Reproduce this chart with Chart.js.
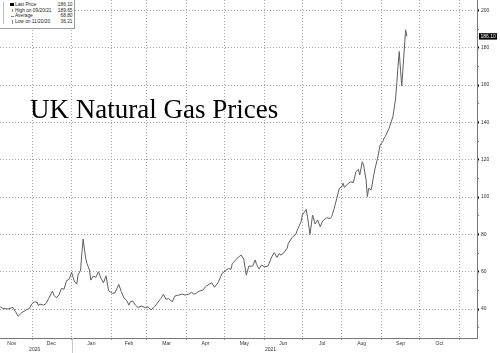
<!DOCTYPE html>
<html><head><meta charset="utf-8">
<script src="https://cdn.jsdelivr.net/npm/chart.js@4.4.0/dist/chart.umd.min.js"></script>
<style>
html,body{margin:0;padding:0;background:#fff;}
#wrap{position:relative;width:500px;height:353px;overflow:hidden;background:#fff;}
#c{position:absolute;left:0;top:0;}
#title{position:absolute;left:30px;top:96px;font-family:"Liberation Serif","Times New Roman",serif;font-size:27px;line-height:27px;color:#000;white-space:nowrap;}
#legend{position:absolute;left:-1px;top:-1px;width:74px;height:28px;border:1px solid #9a9a9a;background:#fff;font-family:"Liberation Sans",Arial,sans-serif;font-size:4.8px;color:#222;}
#legend .row{position:absolute;left:0;width:74px;height:5.6px;line-height:5.6px;}
#legend .lb{position:absolute;left:15px;}
#legend .vl{position:absolute;right:1.5px;}
#legend .ic{position:absolute;left:10px;top:1px;width:3.5px;height:3.5px;}
#legend .tree{position:absolute;left:3px;top:2px;width:1px;height:22px;background:#bbb;}
</style>
</head><body>
<div id="wrap">
<canvas id="c" width="500" height="353"></canvas>
<div id="title">UK Natural Gas Prices</div>
<div id="legend"><div class="tree"></div></div>
</div>
<script>
// Days since 2020-11-01 for each observation
const dayOffsets = [5,7,11,15,17,19,22,24,26,28,30,32,34,35,36,39,41,43,46,47,49,51,53,55,57,59,61,63,65,66,68,69,70,72,73,75,76,78,80,82,84,86,88,90,93,95,98,100,102,104,106,107,109,111,113,116,119,121,123,126,128,131,133,135,137,140,142,145,148,150,153,155,157,159,161,164,166,169,171,173,176,179,182,184,186,187,190,192,194,196,198,200,203,205,206,208,210,212,215,218,220,222,224,225,227,230,231,234,237,238,241,242,245,246,248,250,252,254,256,258,261,264,265,267,269,271,273,274,275,278,280,282,284,286,287,289,290,292,293,294,296,298,299,301,303,305,306,307,310,313,315,316,317,318,319,320,323,324];
const prices = [41.2,40.4,40.0,40.9,38.6,36.21,38.2,38.9,39.8,40.4,43.0,43.9,43.6,41.8,42.7,42.1,43.0,45.7,49.6,47.5,46.0,47.5,51.1,50.6,55.2,55.9,59.7,55.0,53.4,58.2,60.9,69.8,77.5,67.2,64.5,60.9,55.5,57.7,57.0,60.0,56.5,54.1,57.8,49.8,48.4,48.7,53.2,49.3,46.0,44.8,42.1,43.9,44.3,42.1,40.9,41.6,40.7,41.2,39.5,41.2,43.0,45.7,47.9,45.2,45.7,43.9,47.0,47.5,48.0,47.5,48.0,49.0,47.9,48.7,49.6,50.2,52.0,53.4,54.1,51.7,54.3,59.1,60.7,61.8,61.3,64.3,66.6,68.0,68.9,66.8,58.2,63.0,63.0,66.3,64.0,61.5,63.6,62.7,63.0,68.0,70.2,67.7,69.8,68.9,69.8,72.5,75.2,78.4,80.2,82.3,86.8,90.4,93.4,89.5,80.0,90.4,85.6,87.7,84.1,87.3,88.9,88.6,89.5,94.0,99.3,104.7,105.5,107.4,105.2,107.4,108.2,107.7,113.6,114.9,111.8,118.9,117.2,109.1,100.2,104.7,103.8,111.8,115.2,120.8,127.9,129.7,131.5,132.4,136.8,143.0,152.0,160.0,170.0,178.0,168.0,159.5,189.65,186.10];

// Axis definitions (days since 2020-11-01)
const monthStarts = [30,61,92,120,151,181,212,242,273,304,334,365];
const monthMids = [14,45,76.5,106,135.5,166,196.5,227,257.5,288.5,319,349.5];
const monthLabels = ['Nov','Dec','Jan','Feb','Mar','Apr','May','Jun','Jul','Aug','Sep','Oct'];
const yearStart = 61;
const yearPositions = [32,217];
const yearLabels = ['2020','2021'];
const yMinorTicks = [30,50,70,90,110,130,150,170,190];
const yMajorTicks = [40,60,80,100,120,140,160,180,200];

const legendItems = [
  ['Last Price','186.10'],
  ['High on 09/20/21','189.65'],
  ['Average','68.80'],
  ['Low on 11/20/20','36.21']
];

const lg = document.getElementById('legend');
legendItems.forEach((it,i)=>{
  const r = document.createElement('div');
  r.className='row'; r.style.top = (1.9 + i*5.7)+'px';
  const ic = document.createElement('span'); ic.className='ic';
  if(i===0){ ic.style.background='#000'; }
  else { ic.style.width='1px'; ic.style.left='11.5px'; ic.style.background='#888'; if(i===2){ic.style.width='3px';ic.style.height='1px';ic.style.top='2.5px';ic.style.left='10.5px';} }
  const lb = document.createElement('span'); lb.className='lb'; lb.textContent=it[0];
  const vl = document.createElement('span'); vl.className='vl'; vl.textContent=it[1];
  r.appendChild(ic); r.appendChild(lb); r.appendChild(vl); lg.appendChild(r);
});

const FONT = {family:'"Liberation Sans", Arial, sans-serif', size:5};
const X_MIN = 4.8, X_MAX = 379;
const GRID = '#a3a3a3';

const extras = {
  id:'extras',
  afterDraw(chart){
    const ctx = chart.ctx;
    // year separator below the axis
    const xs = Math.round(chart.scales.x.getPixelForValue(yearStart)) + 0.5;
    ctx.save();
    ctx.strokeStyle = '#c8c8c8'; ctx.lineWidth = 1;
    ctx.beginPath(); ctx.moveTo(xs, chart.chartArea.bottom); ctx.lineTo(xs, chart.height); ctx.stroke();
    // last price tag
    const v = prices[prices.length-1];
    const y = chart.scales.y.getPixelForValue(v);
    const x0 = chart.chartArea.right + 2;
    ctx.fillStyle = '#000';
    ctx.fillRect(x0, y-3.2, 18, 6.4);
    ctx.fillStyle = '#fff';
    ctx.font = '5px "Liberation Sans", Arial, sans-serif';
    ctx.textBaseline = 'middle';
    ctx.textAlign = 'left';
    ctx.fillText(v.toFixed(2), x0+1.5, y+0.3);
    ctx.restore();
  }
};

new Chart(document.getElementById('c'), {
  type:'line',
  data:{ datasets:[{
    data: dayOffsets.map((d,i)=>({x:d, y:prices[i]})),
    borderColor:'#5f5f5f', borderWidth:1, pointRadius:0, tension:0, fill:false
  }]},
  options:{
    responsive:false, animation:false, devicePixelRatio:1,
    layout:{padding:0},
    plugins:{legend:{display:false}, tooltip:{enabled:false}},
    scales:{
      x:{
        type:'linear', position:'bottom', min:X_MIN, max:X_MAX, weight:0,
        afterBuildTicks(s){ s.ticks = monthStarts.concat(monthMids).sort((a,b)=>a-b).map(v=>({value:v})); },
        afterFit(s){ s.height = 8; s.paddingLeft=0; s.paddingRight=0; },
        ticks:{ autoSkip:false, maxRotation:0, padding:0.5, color:'#333', font:FONT,
          callback(v){ const i = monthMids.indexOf(v); return i>=0 ? monthLabels[i] : ''; } },
        grid:{ drawOnChartArea:true, tickLength:2,
          color(c){ return c.tick && monthStarts.includes(c.tick.value) ? GRID : 'rgba(0,0,0,0)'; },
          tickColor(c){ return c.tick && monthStarts.includes(c.tick.value) ? '#999' : 'rgba(0,0,0,0)'; } },
        border:{ display:true, color:'#777', width:1, dash:[1,2] }
      },
      xYear:{
        type:'linear', position:'bottom', min:X_MIN, max:X_MAX, weight:1,
        afterBuildTicks(s){ s.ticks = yearPositions.map(v=>({value:v})); },
        afterFit(s){ s.height = 7; s.paddingLeft=0; s.paddingRight=0; },
        ticks:{ autoSkip:false, maxRotation:0, padding:0.5, color:'#333', font:FONT,
          callback(v){ const i = yearPositions.indexOf(v); return i>=0 ? yearLabels[i] : ''; } },
        grid:{ display:false, drawTicks:false, tickLength:0 }, border:{ display:false }
      },
      y:{
        type:'linear', position:'right', min:24.5, max:205.6,
        afterBuildTicks(s){ s.ticks = yMinorTicks.concat(yMajorTicks).sort((a,b)=>a-b).map(v=>({value:v})); },
        afterFit(s){ s.width = 23; s.paddingTop=0; s.paddingBottom=0; },
        ticks:{ autoSkip:false, padding:2, color:'#333', font:FONT,
          callback(v){ return yMajorTicks.includes(v) ? String(v) : ''; } },
        grid:{ tickLength:2,
          color(c){ return c.tick && yMajorTicks.includes(c.tick.value) ? GRID : 'rgba(0,0,0,0)'; },
          tickColor(c){ return c.tick && yMajorTicks.includes(c.tick.value) ? '#000' : '#888'; },
          tickWidth(c){ return c.tick && yMajorTicks.includes(c.tick.value) ? 2 : 1; } },
        border:{ display:true, color:'#777', width:1, dash:[1,2] }
      }
    }
  },
  plugins:[extras]
});
</script>
</body></html>
